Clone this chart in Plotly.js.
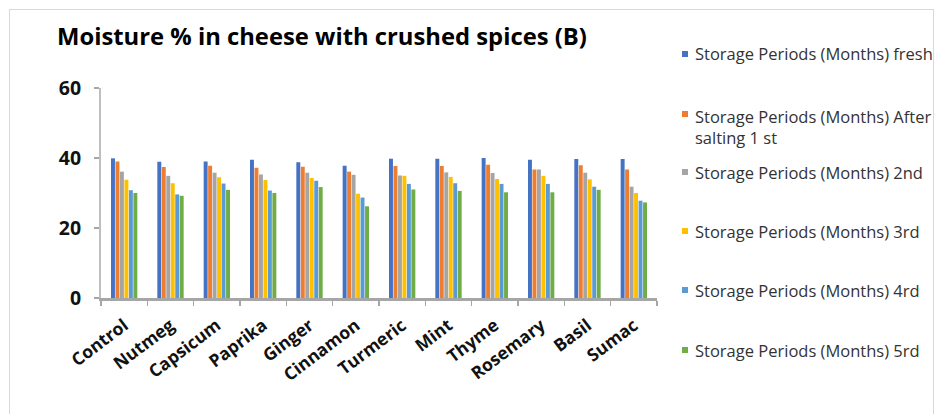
<!DOCTYPE html>
<html>
<head>
<meta charset="utf-8">
<script src="https://cdn.plot.ly/plotly-3.0.1.min.js"></script>
<style>
  html, body { margin: 0; padding: 0; background: #fff; }
  #wrap { position: relative; width: 936px; height: 414px; overflow: hidden; }
  #chart { width: 936px; height: 414px; }
  #frame { position: absolute; left: 9px; top: 9px; width: 923px; height: 440px;
           border: 1px solid #d9d9d9; pointer-events: none; }
</style>
</head>
<body>
<div id="wrap">
  <div id="chart"></div>
  <div id="frame"></div>
</div>
<script>
// Cheese treatments (crushed spices)
const categories = ['Control', 'Nutmeg', 'Capsicum', 'Paprika', 'Ginger', 'Cinnamon',
                    'Turmeric', 'Mint', 'Thyme', 'Rosemary', 'Basil', 'Sumac'];

// Moisture % by storage period
const fresh      = [39.9, 38.9, 39.0, 39.5, 38.8, 37.8, 39.8, 39.8, 40.0, 39.5, 39.7, 39.7];
const afterSalt1 = [39.0, 37.4, 37.8, 37.2, 37.5, 36.1, 37.7, 37.7, 38.1, 36.7, 37.9, 36.7];
const month2     = [36.1, 34.9, 35.8, 35.3, 35.8, 35.2, 35.0, 35.9, 35.7, 36.7, 35.8, 31.8];
const month3     = [33.8, 32.8, 34.5, 33.7, 34.3, 29.8, 34.9, 34.6, 34.0, 34.9, 33.9, 30.0];
const month4     = [30.8, 29.6, 32.7, 30.7, 33.5, 28.7, 32.6, 32.8, 32.6, 32.6, 31.8, 27.8];
const month5     = [30.0, 29.2, 30.9, 30.0, 31.7, 26.2, 31.0, 30.6, 30.2, 30.2, 30.9, 27.3];

const seriesNames = [
  'Storage Periods (Months) fresh',
  'Storage Periods (Months) After<br>salting 1 st',
  'Storage Periods (Months) 2nd',
  'Storage Periods (Months) 3rd',
  'Storage Periods (Months) 4rd',
  'Storage Periods (Months) 5rd'
];
const seriesValues = [fresh, afterSalt1, month2, month3, month4, month5];
const yTicks = [0, 20, 40, 60];

const colors = ['#4472C4', '#ED7D31', '#A5A5A5', '#FFC000', '#5B9BD5', '#70AD47'];

// plot-area geometry in pixels, used to place the side key
const W = 936, H = 414;
const M = { l: 101, r: 279, t: 88, b: 116 };
const plotW = W - M.l - M.r, plotH = H - M.t - M.b;
const px2x = p => (p - M.l) / plotW;
const py2y = p => (H - M.b - p) / plotH;

const traces = seriesValues.map((vals, i) => ({
  type: 'bar',
  x: categories,
  y: vals,
  name: seriesNames[i].replace('<br>', ' '),
  marker: { color: colors[i] },
  hoverinfo: 'x+y+name',
  showlegend: false
}));

// side key: one square and one label per series
const keyRows = [54, 127, 172, 231, 290, 350];
const annotations = seriesNames.map((n, i) => ({
  xref: 'paper', yref: 'paper',
  x: px2x(693), y: py2y(keyRows[i]),
  xanchor: 'left', yanchor: 'middle', align: 'left',
  text: n, showarrow: false,
  font: { family: 'Open Sans, sans-serif', size: 16.5, color: '#333333' }
}));
const squareRows = [54, 114, 172, 231, 290, 350];
const shapes = squareRows.map((r, i) => ({
  type: 'rect', xref: 'paper', yref: 'paper',
  x0: px2x(682), x1: px2x(688), y0: py2y(r + 3), y1: py2y(r - 3),
  fillcolor: colors[i], line: { width: 0 }
}));

const layout = {
  width: W, height: H,
  margin: M,
  paper_bgcolor: '#ffffff', plot_bgcolor: '#ffffff',
  title: {
    text: '<b>Moisture % in cheese with crushed spices (B)</b>',
    xref: 'container', yref: 'container',
    x: 57 / W, xanchor: 'left',
    y: 1 - 37 / H, yanchor: 'middle',
    font: { family: 'Open Sans, sans-serif', size: 23.8, color: '#000000' }
  },
  barmode: 'group',
  bargap: 0.42,
  bargroupgap: 0.12,
  xaxis: {
    type: 'category',
    tickson: 'boundaries',
    ticks: 'outside', ticklen: 5, tickcolor: '#a6a6a6', tickwidth: 1.5,
    showline: true, linecolor: '#a6a6a6', linewidth: 2.5,
    showgrid: false, zeroline: false,
    tickangle: -37,
    ticklabelstandoff: 8,
    tickfont: { family: 'Open Sans, sans-serif', size: 17.5, color: '#111111', weight: 'bold' }
  },
  yaxis: {
    range: [0, 60],
    tickvals: yTicks,
    ticktext: yTicks.map(String),
    ticks: 'outside', ticklen: 5, tickcolor: '#a6a6a6', tickwidth: 1.5,
    showline: true, linecolor: '#bfbfbf', linewidth: 2,
    showgrid: false, zeroline: false,
    ticklabelstandoff: 9,
    tickfont: { family: 'Open Sans, sans-serif', size: 19.5, color: '#111111', weight: 'bold' }
  },
  annotations: annotations,
  shapes: shapes,
  showlegend: false
};

Plotly.newPlot('chart', traces, layout, { displayModeBar: false, staticPlot: true });
</script>
</body>
</html>
